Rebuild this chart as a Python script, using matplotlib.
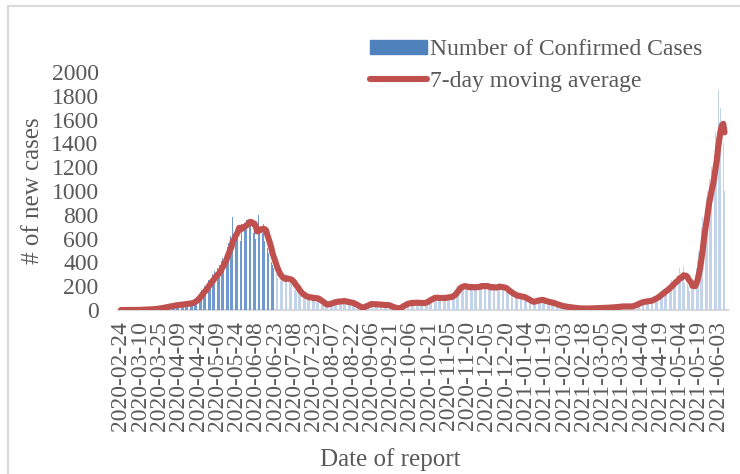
import matplotlib
matplotlib.use("Agg")
import matplotlib.pyplot as plt
import numpy as np
import pandas as pd
from matplotlib.patches import Rectangle
from matplotlib.lines import Line2D

start_date = "2020-02-24"

# Daily confirmed cases, one row per week
daily_cases = [
    0, 0, 0, 0, 0, 0, 0,
    0, 0, 1, 0, 0, 2, 1,
    1, 3, 2, 4, 3, 5, 2,
    6, 8, 5, 10, 9, 12, 7,
    15, 18, 14, 22, 25, 20, 28,
    30, 26, 35, 38, 33, 41, 40,
    42, 48, 39, 45, 50, 44, 52,
    47, 55, 60, 52, 58, 62, 56,
    70, 85, 95, 110, 120, 135, 150,
    165, 180, 200, 190, 230, 250, 245,
    260, 300, 270, 330, 310, 350, 290,
    380, 410, 440, 420, 500, 470, 530,
    560, 620, 580, 780, 600, 650, 660,
    700, 860, 580, 720, 650, 730, 690,
    760, 920, 700, 740, 610, 650, 700,
    600, 620, 800, 700, 680, 650, 720,
    580, 560, 520, 480, 430, 400, 380,
    350, 320, 300, 270, 260, 240, 280,
    250, 270, 260, 300, 240, 230, 260,
    220, 200, 180, 170, 150, 140, 130,
    120, 115, 100, 130, 95, 110, 100,
    90, 120, 95, 85, 110, 100, 95,
    70, 60, 45, 40, 50, 35, 40,
    55, 70, 60, 75, 65, 70, 60,
    80, 70, 85, 75, 65, 80, 70,
    65, 60, 55, 70, 50, 60, 55,
    30, 25, 15, 20, 18, 12, 15,
    40, 55, 60, 45, 50, 55, 45,
    40, 50, 45, 55, 40, 45, 40,
    45, 35, 40, 50, 30, 40, 40,
    15, 10, 12, 8, 15, 10, 14,
    30, 45, 55, 50, 60, 55, 55,
    55, 65, 60, 70, 55, 60, 55,
    65, 55, 60, 60, 55, 65, 60,
    85, 95, 110, 100, 105, 100, 105,
    95, 110, 100, 90, 105, 100, 100,
    100, 115, 120, 105, 110, 115, 105,
    150, 170, 190, 210, 200, 215, 195,
    180, 200, 210, 190, 185, 195, 170,
    205, 190, 200, 185, 210, 180, 195,
    210, 230, 190, 200, 185, 205, 180,
    170, 200, 210, 180, 195, 185, 190,
    200, 220, 180, 175, 190, 165, 165,
    150, 140, 130, 120, 125, 130, 115,
    115, 105, 120, 100, 110, 115, 105,
    80, 75, 65, 70, 60, 75, 65,
    80, 90, 95, 85, 80, 90, 75,
    70, 65, 60, 70, 65, 60, 65,
    50, 45, 40, 35, 40, 35, 35,
    30, 25, 28, 20, 25, 22, 25,
    18, 15, 12, 16, 14, 15, 15,
    12, 10, 14, 11, 13, 12, 12,
    14, 16, 13, 15, 17, 14, 16,
    16, 19, 17, 20, 18, 17, 19,
    20, 23, 21, 25, 22, 21, 22,
    28, 32, 30, 27, 33, 29, 31,
    26, 30, 34, 28, 31, 29, 32,
    45, 55, 60, 65, 58, 70, 67,
    70, 80, 75, 72, 78, 76, 74,
    90, 100, 110, 120, 105, 125, 120,
    150, 160, 175, 165, 185, 170, 185,
    210, 230, 250, 240, 260, 255, 235,
    280, 350, 260, 290, 370, 230, 240,
    220, 190, 160, 200, 180, 230, 220,
    350, 420, 500, 550, 700, 780, 900,
    850, 950, 1000, 1100, 1050, 1200, 1200,
    1300, 1500, 1450, 1850, 1580, 1700, 1470,
    1400, 1000,
]

y_ticks = [0, 200, 400, 600, 800, 1000, 1200, 1400, 1600, 1800, 2000]
label_step = 15
dark_until = "2020-06-24"

dates = pd.date_range(start_date, periods=len(daily_cases), freq="D")
s = pd.Series(daily_cases, index=dates, dtype=float)
ma7 = s.rolling(7, min_periods=1).mean()

plt.rcParams["font.family"] = ["Liberation Serif", "DejaVu Serif"]
txt = "#595959"

fig = plt.figure(figsize=(7.4, 4.74), dpi=100)
ax = fig.add_axes([118 / 740, 1 - 310 / 474, 610 / 740, 238 / 474])

x = np.arange(len(dates))
cols = ["#7099CD" if d < pd.Timestamp(dark_until) else "#C3D4EA" for d in dates]
ax.bar(x, s.values, width=0.62, color=cols, linewidth=0, zorder=2)
ax.plot(x, ma7.values, color="#C0504D", lw=4.4, solid_capstyle="round",
        solid_joinstyle="round", zorder=3)

ax.set_xlim(-2.3, 472.7)
ax.set_ylim(0, 2000)
ax.set_yticks(y_ticks)
ax.set_yticklabels([str(v) for v in y_ticks])
tick_pos = x[::label_step]
ax.set_xticks(tick_pos)
ax.set_xticklabels([dates[i].strftime("%Y-%m-%d") for i in tick_pos], rotation=90)
ax.tick_params(axis="y", length=0, pad=14, labelsize=17, labelcolor=txt)
ax.tick_params(axis="x", length=0, pad=8, labelsize=17, labelcolor=txt)
for sp in ["top", "right", "left"]:
    ax.spines[sp].set_visible(False)
ax.spines["bottom"].set_color("#D9D9D9")
ax.spines["bottom"].set_linewidth(1.5)
ax.spines["bottom"].set_zorder(1)

ax.set_ylabel("# of new cases", fontsize=18, color=txt, labelpad=5)
fig.text(390 / 740, 1 - 460 / 474, "Date of report", fontsize=18, color=txt,
         ha="center", va="center")

handles = [Rectangle((0, 0), 1, 1, color="#4F81BD"),
           Line2D([0], [0], color="#C0504D", lw=4.4, solid_capstyle="round")]
fig.legend(handles, ["Number of Confirmed Cases", "7-day moving average"],
           loc="upper left", bbox_to_anchor=(349 / 740, 1 - 18 / 474),
           frameon=False, fontsize=17, labelcolor=txt, handlelength=2.4,
           handleheight=0.5, handletextpad=0.15, labelspacing=0.45)

fig.patches.append(Rectangle((8 / 740, -0.1), 1.2, 1 - 6 / 474 + 0.1,
                             transform=fig.transFigure, fill=False,
                             edgecolor="#D9D9D9", lw=1.5))

fig.savefig("out.png", dpi=100)
